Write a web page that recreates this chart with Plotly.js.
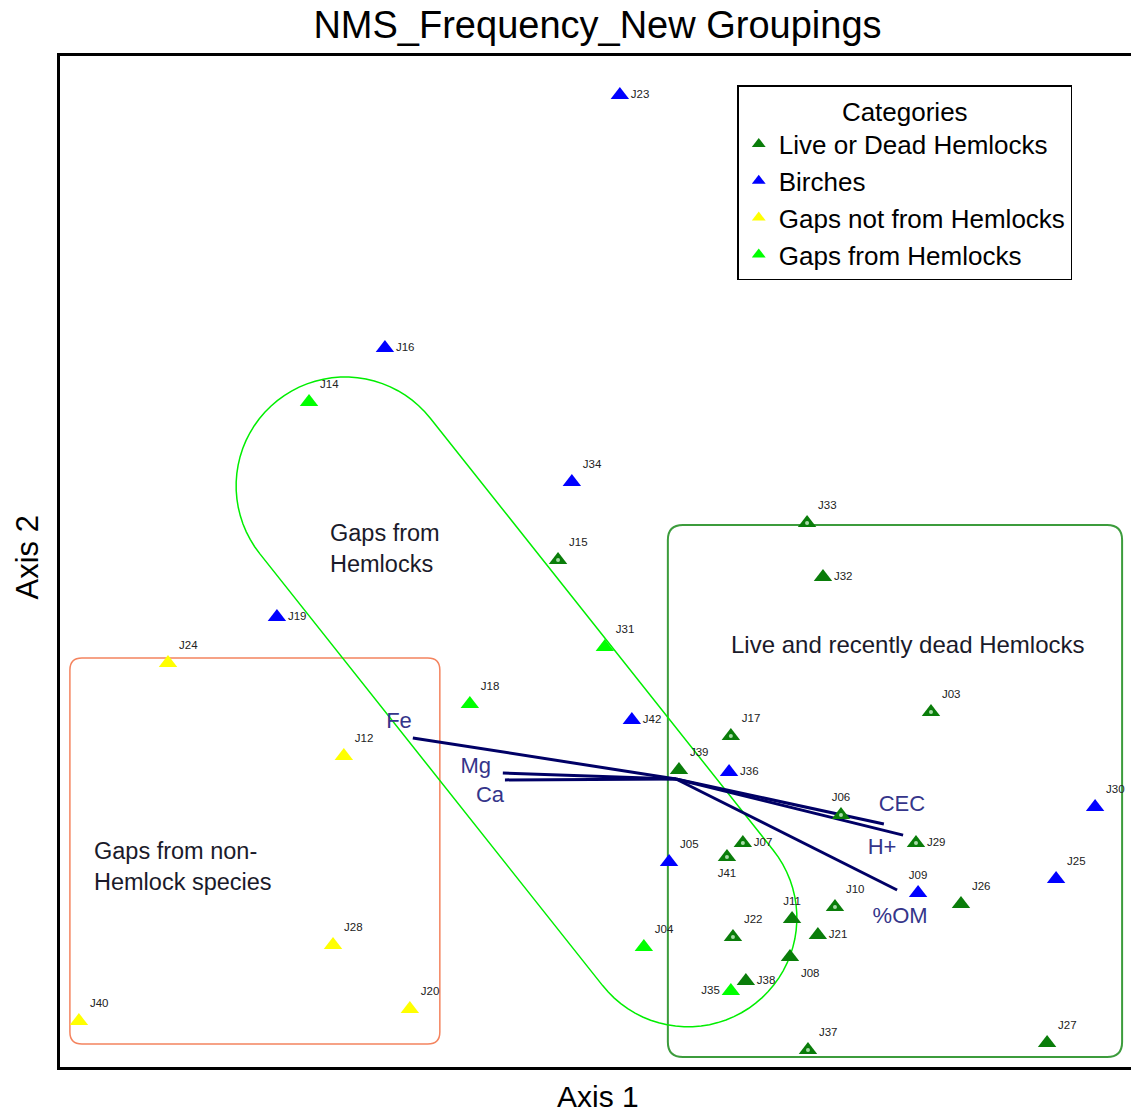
<!DOCTYPE html>
<html>
<head>
<meta charset="utf-8">
<script src="https://cdn.plot.ly/plotly-3.0.1.min.js"></script>
<style>
html,body{margin:0;padding:0;background:#fff;overflow:hidden;}
#chart{width:1136px;height:1115px;}
</style>
</head>
<body>
<div id="chart"></div>
<script>
// ---- Data (NMS scores) ----
const hemIds = ['J33','J32','J15','J03','J17','J39','J06','J29','J07','J41','J26','J10','J11','J21','J22','J08','J38','J37','J27'];
const hemX = [0.437,0.490,-0.393,0.850,0.183,0.010,0.550,0.800,0.223,0.170,0.950,0.530,0.387,0.473,0.190,0.380,0.233,0.440,1.237];
const hemY = [0.853,0.673,0.730,0.223,0.143,0.030,-0.120,-0.213,-0.213,-0.260,-0.417,-0.427,-0.467,-0.520,-0.527,-0.593,-0.673,-0.903,-0.880];
const hemRecent = [1,0,1,1,1,0,1,1,1,1,0,1,0,0,1,0,0,1,0];

const birchIds = ['J23','J16','J34','J19','J42','J36','J30','J05','J09','J25'];
const birchX = [-0.187,-0.970,-0.347,-1.330,-0.147,0.177,1.397,-0.023,0.807,1.267];
const birchY = [2.280,1.437,0.990,0.540,0.197,0.023,-0.093,-0.277,-0.380,-0.333];

const nonHemIds = ['J24','J12','J28','J20','J40'];
const nonHemX = [-1.693,-1.107,-1.143,-0.887,-1.990];
const nonHemY = [0.387,0.077,-0.553,-0.767,-0.807];

const gapHemIds = ['J14','J31','J18','J04','J35'];
const gapHemX = [-1.223,-0.237,-0.687,-0.107,0.183];
const gapHemY = [1.257,0.440,0.250,-0.560,-0.707];

const categories = ['Live or Dead Hemlocks','Birches','Gaps not from Hemlocks','Gaps from Hemlocks'];

// Environmental vectors (joint plot)
const vecNames = ['Fe','Mg','Ca','CEC','H+','%OM'];
const vecX = [-0.877,-0.577,-0.570,0.693,0.757,0.737];
const vecY = [0.137,0.020,-0.003,-0.150,-0.187,-0.370];
const vecLabelX = [-0.923,-0.667,-0.620,0.753,0.687,0.747];
const vecLabelY = [0.190,0.037,-0.057,-0.087,-0.230,-0.460];

// ---- Styles ----
const FONT = 'Arial, "Liberation Sans", sans-serif';
const labelPos = {J16:'middle right',J19:'middle right',J42:'middle right',J36:'middle right',J29:'middle right',
  J07:'middle right',J21:'middle right',J38:'middle right',J32:'middle right',J23:'middle right',
  J41:'bottom center',J08:'bottom right',J35:'middle left',J06:'top center',J09:'top center',J11:'top center'};
function positions(ids){return ids.map(id => labelPos[id] || 'top right');}

function catTrace(name, ids, xs, ys, color){
  return {type:'scatter', mode:'markers+text', name:name, x:xs, y:ys, text:ids,
    textposition:positions(ids), textfont:{family:FONT,size:11.5,color:'#222'},
    marker:{symbol:'triangle-up', size:16, color:color, line:{width:0}},
    hoverinfo:'text'};
}

const traces = [];
// vectors
const vx=[], vy=[];
for(let i=0;i<vecNames.length;i++){ vx.push(0, vecX[i], null); vy.push(0, vecY[i], null); }
traces.push({type:'scatter', mode:'lines', x:vx, y:vy, line:{color:'#000066', width:3}, showlegend:false, hoverinfo:'skip'});
traces.push({type:'scatter', mode:'text', x:vecLabelX, y:vecLabelY, text:vecNames, textposition:'middle center',
  textfont:{family:FONT, size:22, color:'#35358a'}, showlegend:false, hoverinfo:'skip'});

traces.push(catTrace(categories[0], hemIds, hemX, hemY, '#0a7d0a'));
traces.push(catTrace(categories[1], birchIds, birchX, birchY, '#0000ff'));
traces.push(catTrace(categories[2], nonHemIds, nonHemX, nonHemY, '#ffff00'));
traces.push(catTrace(categories[3], gapHemIds, gapHemX, gapHemY, '#00ff00'));
// light centre of recently dead hemlock markers
traces.push({type:'scatter', mode:'markers', showlegend:false, hoverinfo:'skip',
  x:hemX.filter((v,i)=>hemRecent[i]), y:hemY.filter((v,i)=>hemRecent[i]),
  marker:{symbol:'circle', size:4, color:'#a8dca8'}});

// ---- Shapes ----
function roundRect(x0,x1,y0,y1,r){
  return `M ${x0+r} ${y1} L ${x1-r} ${y1} Q ${x1} ${y1} ${x1} ${y1-r} L ${x1} ${y0+r} Q ${x1} ${y0} ${x1-r} ${y0} `+
         `L ${x0+r} ${y0} Q ${x0} ${y0} ${x0} ${y0+r} L ${x0} ${y1-r} Q ${x0} ${y1} ${x0+r} ${y1} Z`;
}
function capsule(c1x,c1y,c2x,c2y,r){
  const L=Math.hypot(c2x-c1x,c2y-c1y), dx=(c2x-c1x)/L, dy=(c2y-c1y)/L, nx=-dy, ny=dx;
  const pts=[];
  for(let k=0;k<=40;k++){const p=Math.PI*k/40; pts.push([c2x+r*(Math.cos(p)*nx+Math.sin(p)*dx), c2y+r*(Math.cos(p)*ny+Math.sin(p)*dy)]);}
  for(let k=0;k<=40;k++){const p=Math.PI*k/40; pts.push([c1x-r*(Math.cos(p)*nx+Math.sin(p)*dx), c1y-r*(Math.cos(p)*ny+Math.sin(p)*dy)]);}
  return 'M '+pts.map(p=>p[0].toFixed(4)+' '+p[1].toFixed(4)).join(' L ')+' Z';
}
const shapes = [
  {type:'path', xref:'x', yref:'y', path:roundRect(-2.020,-0.787,-0.883,0.403,0.04), line:{color:'#f4845f', width:1.5}, layer:'below'},
  {type:'path', xref:'x', yref:'y', path:roundRect(-0.027,1.487,-0.927,0.847,0.05), line:{color:'#3c9c3c', width:2}, layer:'below'},
  {type:'path', xref:'x', yref:'y', path:capsule(-1.103,0.977,0.040,-0.463,0.363), line:{color:'#00ee00', width:1.5}, layer:'below'}
];

const annotations = [
  {xref:'x', yref:'y', x:-1.160, y:0.770, xanchor:'left', yanchor:'middle', align:'left', showarrow:false,
   text:'Gaps from<br>Hemlocks', font:{family:FONT, size:23.5, color:'#1a1a2a'}},
  {xref:'x', yref:'y', x:0.773, y:0.447, xanchor:'center', yanchor:'middle', showarrow:false,
   text:'Live and recently dead Hemlocks', font:{family:FONT, size:24, color:'#1a1a2a'}},
  {xref:'x', yref:'y', x:-1.947, y:-0.290, xanchor:'left', yanchor:'middle', align:'left', showarrow:false,
   text:'Gaps from non-<br>Hemlock species', font:{family:FONT, size:23.5, color:'#1a1a2a'}},
  {xref:'paper', yref:'paper', x:0.5, y:-0.029, xanchor:'center', yanchor:'middle', showarrow:false,
   text:'Axis 1', font:{family:FONT, size:30, color:'#000'}},
  {xref:'paper', yref:'paper', x:-0.0307, y:0.504, xanchor:'center', yanchor:'middle', showarrow:false, textangle:-90,
   text:'Axis 2', font:{family:FONT, size:31, color:'#000'}}
];

const axisCommon = {showgrid:false, zeroline:false, showticklabels:false, ticks:'', showline:true, mirror:true,
  linecolor:'#000', linewidth:3, fixedrange:true};

const layout = {
  width:1136, height:1115,
  margin:{l:60, r:1, t:56, b:48},
  paper_bgcolor:'#fff', plot_bgcolor:'#fff',
  title:{text:'NMS_Frequency_New Groupings', x:0.5, xref:'paper', xanchor:'center', y:0.978, yref:'container', yanchor:'middle',
    font:{family:FONT, size:38, color:'#000'}},
  xaxis:Object.assign({range:[-2.053,1.530]}, axisCommon),
  yaxis:Object.assign({range:[-0.960,2.410]}, axisCommon),
  showlegend:true,
  legend:{x:0.630, y:0.971, xanchor:'left', yanchor:'top', bgcolor:'#fff', bordercolor:'#000', borderwidth:1.5,
    font:{family:FONT, size:26, color:'#000'}, title:{text:'Categories', side:'top center', font:{family:FONT, size:26, color:'#000'}},
    itemsizing:'constant', tracegroupgap:0},
  shapes:shapes,
  annotations:annotations
};

Plotly.newPlot('chart', traces, layout, {displayModeBar:false, staticPlot:true});
</script>
</body>
</html>
